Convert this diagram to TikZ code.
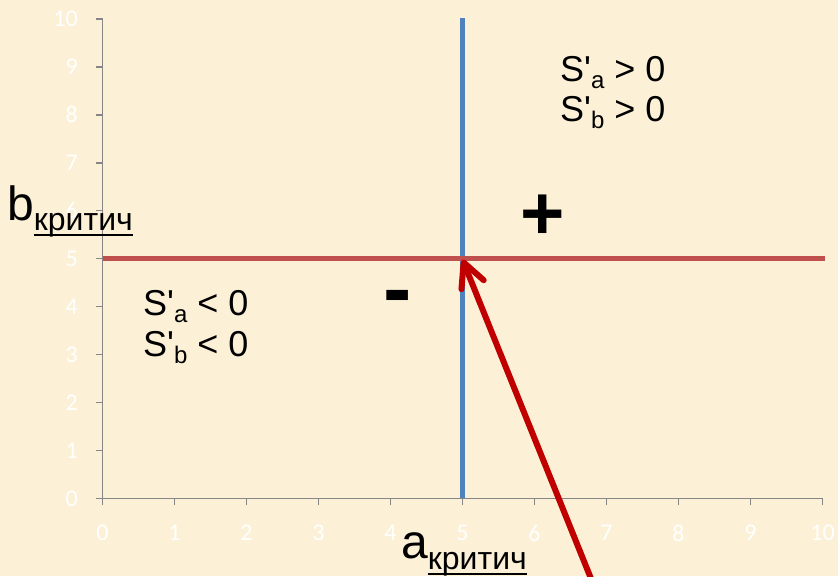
\documentclass[tikz,border=0pt]{standalone}
\usepackage{fontspec}
\setmainfont{Liberation Sans}[Ligatures=TeXOff]
\newfontfamily\tickfont{Carlito}
\usetikzlibrary{arrows.meta}

\definecolor{parchment}{RGB}{252,241,214}
\definecolor{axisgray}{RGB}{134,134,134}
\definecolor{critred}{RGB}{192,80,77}
\definecolor{critblue}{RGB}{79,129,189}
\definecolor{arrowred}{RGB}{192,0,0}

\newsavebox\critbox
\newcommand\critline[1]{\sbox\critbox{#1}\rlap{\rule[-5.8pt]{\wd\critbox}{2.2pt}}\usebox\critbox}
\newcommand\critsub{\raisebox{-10.5pt}{\fontsize{32}{32}\selectfont\critline{критич}}}
\newcommand\dsub[1]{\raisebox{-7pt}{\fontsize{24}{24}\selectfont #1}}

\begin{document}
\begin{tikzpicture}[x=72pt, y=47.93pt,
  axisline/.style={draw=axisgray, line width=1.5pt},
  ticklabel/.style={inner sep=0, text=white, font=\tickfont\fontsize{24}{24}\selectfont},
  critlabel/.style={inner sep=0, anchor=base west, font=\fontsize{48}{48}\selectfont},
  signtext/.style={inner sep=0, anchor=base west, font=\fontsize{36}{36}\selectfont},
  signmark/.style={inner sep=0, anchor=base, font=\bfseries\fontsize{#1}{#1}\selectfont}]
  % page: plot origin is 102.5pt from the left edge, 77.7pt above the bottom
  \fill[parchment] (-1.4236,-1.621) rectangle (10.215,10.397);
  \useasboundingbox (-1.4236,-1.621) rectangle (10.215,10.397);

  % axes with outward ticks
  \coordinate (O) at (0,0);
  \coordinate (X) at (10,0);
  \coordinate (Y) at (0,10);
  \draw[axisline] (Y) -- (O) -- (X);
  \foreach \i in {0,...,10} {
    \draw[axisline] (0,\i) -- ++(-7pt,0pt);
    \draw[axisline] (\i,0) -- ++(0pt,-7pt);
    \node[ticklabel, anchor=east] (ylab\i) at (-0.340,\i) {\i};
    \node[ticklabel] (xlab\i) at (\i,-0.724) {\i};
  }

  % critical levels
  \coordinate (acrittop) at (5,10.02);
  \coordinate (acritbot) at (5,0);
  \coordinate (bcritleft) at (0,5);
  \coordinate (bcritright) at (10.03,5);
  \draw[critblue, line width=5.5pt] (acritbot) -- (acrittop);
  \draw[critred, line width=5.5pt] (bcritleft) -- (bcritright);

  % axis names
  \node[critlabel] (bcrit) at (-1.326,5.806) {b\critsub};
  \node[critlabel] (acrit) at (4.146,-1.262) {a\critsub};

  % sign regions
  \node[signtext] (sapos) at (6.354,8.692) {S'\dsub{a} > 0};
  \node[signtext] (sbpos) at (6.354,7.857) {S'\dsub{b} > 0};
  \node[signtext] (saneg) at (0.5625,3.824) {S'\dsub{a} < 0};
  \node[signtext] (sbneg) at (0.5625,2.954) {S'\dsub{b} < 0};
  \node[signmark=76] (plus) at (6.111,5.41) {+};
  \node[signmark=85] (minus) at (4.104,3.772) {-};

  % pointer to the critical point
  \coordinate (arrtail) at (6.826,-1.830);
  \coordinate (arrtip) at (5,4.98);
  \draw[arrowred, line width=6pt,
    -{Straight Barb[length=24pt, width=24pt, line cap=round, line join=round]}]
    (arrtail) -- (arrtip);
\end{tikzpicture}
\end{document}
